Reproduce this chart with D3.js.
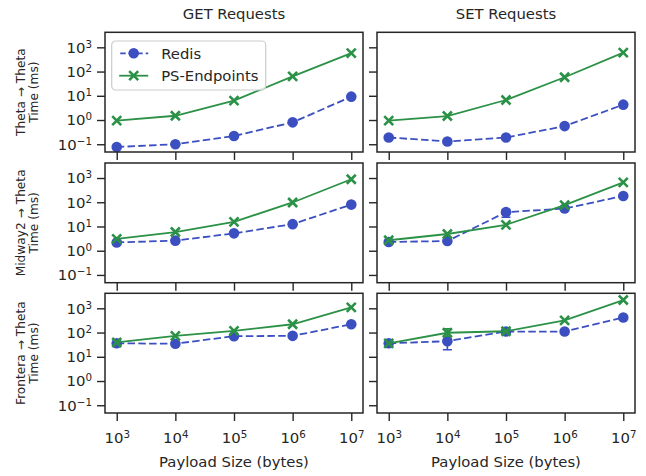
<!DOCTYPE html>
<html>
<head>
<meta charset="utf-8">
<script src="https://cdn.jsdelivr.net/npm/d3@7"></script>
<style>body{margin:0;background:#fff}</style>
</head>
<body>
<div id="chart"></div>
<script>
// values, time in ms, indexed [route][payload]
const payloadSizes = [1e3, 1e4, 1e5, 1e6, 1e7];
const xTickExps = ["3", "4", "5", "6", "7"];
const yTickValues = [1e-1, 1e0, 1e1, 1e2, 1e3];
const yTickExps = ["\u22121", "0", "1", "2", "3"];
const operations = ["GET Requests", "SET Requests"];
const routes = ["Theta \u2192 Theta", "Midway2 \u2192 Theta", "Frontera \u2192 Theta"];
const seriesNames = ["Redis", "PS-Endpoints"];

const redisGet = [
  [0.077, 0.10, 0.22, 0.80, 9.2],
  [2.2, 2.6, 5.2, 12.5, 80],
  [36, 34.5, 71, 73, 220]
];
const psGet = [
  [0.94, 1.5, 6.3, 63, 580],
  [3.1, 5.9, 15.6, 98, 890],
  [39, 73, 118, 220, 1100]
];
const redisSet = [
  [0.19, 0.13, 0.19, 0.56, 4.3],
  [2.3, 2.5, 39, 55, 182],
  [36, 44, 110, 110, 420]
];
const psSet = [
  [0.94, 1.46, 6.7, 58, 600],
  [2.7, 4.9, 11.7, 76, 665],
  [36, 98, 113, 320, 2200]
];
// error bars [low, high]; null where the bar hides behind the marker
const redisSetErr = [
  [null, null, null, null, null],
  [null, null, [24, 50], null, null],
  [null, [19.5, 55], null, null, null]
];
const psSetErr = [
  [null, null, null, null, null],
  [null, null, null, null, null],
  [null, [70, 142], null, null, null]
];

(function () {
  const width = 646, height = 476;
  const colX = [105, 377], rowY = [32.3, 163, 293.3];
  const pw = 258, ph = 119.7;
  const ink = "#262626";
  const blue = "#3b4fc1", green = "#2b9147";

  const svg = d3.select("#chart").append("svg")
    .attr("width", width)
    .attr("height", height)
    .style("font-family", "'DejaVu Sans', sans-serif");

  const x = d3.scaleLog().domain([10 ** 2.8, 10 ** 7.2]).range([0, pw]);
  const y = d3.scaleLog().domain([10 ** -1.32, 10 ** 3.62]).range([ph, 0]);

  const styles = [
    { color: blue, dash: "7.5,3.3", marker: "circle" },
    { color: green, dash: null, marker: "x" }
  ];
  const data = [[redisGet, psGet], [redisSet, psSet]];
  const errs = [[null, null], [redisSetErr, psSetErr]];

  function powLabel(sel, exps) {
    sel.each(function (d, i) {
      const t = d3.select(this).text(null);
      t.append("tspan").text("10");
      t.append("tspan").attr("dy", "-5px").style("font-size", "10.3px").text(exps[i]);
    });
  }

  function drawMarker(g, kind, color, cx, cy) {
    if (kind === "circle") {
      g.append("circle").attr("cx", cx).attr("cy", cy).attr("r", 5.3).attr("fill", color);
    } else {
      const s = 4.5;
      g.append("path")
        .attr("d", `M${cx - s},${cy - s}L${cx + s},${cy + s}M${cx - s},${cy + s}L${cx + s},${cy - s}`)
        .attr("stroke", color).attr("stroke-width", 2.6).attr("fill", "none");
    }
  }

  operations.forEach((op, c) => {
    svg.append("text")
      .attr("x", colX[c] + pw / 2).attr("y", 18.5)
      .attr("text-anchor", "middle").attr("fill", ink)
      .style("font-size", "14.8px").text(op);

    routes.forEach((route, r) => {
      const g = svg.append("g").attr("transform", `translate(${colX[c]},${rowY[r]})`);

      // axes
      const ya = g.append("g").call(d3.axisLeft(y).tickValues(yTickValues).tickSize(8).tickSizeOuter(0).tickPadding(5));
      const xa = g.append("g").attr("transform", `translate(0,${ph})`)
        .call(d3.axisBottom(x).tickValues(payloadSizes).tickSize(8).tickSizeOuter(0).tickPadding(11.5));
      [ya, xa].forEach(a => {
        a.select(".domain").remove();
        a.selectAll("line").attr("stroke", ink).attr("stroke-width", 1.4);
        a.selectAll("text").attr("fill", ink).style("font-size", "14.9px").style("font-family", "'DejaVu Sans', sans-serif");
      });
      if (c === 0) powLabel(ya.selectAll(".tick text"), yTickExps);
      else ya.selectAll(".tick text").remove();
      if (r === 2) powLabel(xa.selectAll(".tick text"), xTickExps);
      else xa.selectAll(".tick text").remove();

      // series
      data[c].forEach((series, s) => {
        const st = styles[s];
        const vals = series[r];
        const line = d3.line().x((d, i) => x(payloadSizes[i])).y(d => y(d));
        g.append("path").datum(vals)
          .attr("d", line)
          .attr("fill", "none")
          .attr("stroke", st.color)
          .attr("stroke-width", 1.8)
          .attr("stroke-dasharray", st.dash);
        const e = errs[c][s];
        if (e) {
          e[r].forEach((b, i) => {
            if (!b) return;
            const px = x(payloadSizes[i]);
            g.append("path")
              .attr("d", `M${px},${y(b[0])}V${y(b[1])}M${px - 4.5},${y(b[0])}H${px + 4.5}M${px - 4.5},${y(b[1])}H${px + 4.5}`)
              .attr("stroke", st.color).attr("stroke-width", 1.6).attr("fill", "none");
          });
        }
        vals.forEach((v, i) => drawMarker(g, st.marker, st.color, x(payloadSizes[i]), y(v)));
      });

      g.append("rect")
        .attr("width", pw).attr("height", ph)
        .attr("fill", "none").attr("stroke", ink).attr("stroke-width", 1.5);

      if (c === 0) {
        const cy = rowY[r] + ph / 2;
        [route, "Time (ms)"].forEach((t, k) => {
          svg.append("text")
            .attr("transform", `translate(${k === 0 ? 24.5 : 38},${cy}) rotate(-90)`)
            .attr("text-anchor", "middle").attr("fill", ink)
            .style("font-size", "12.2px").text(t);
        });
      }
      if (r === 2) {
        svg.append("text")
          .attr("x", colX[c] + pw / 2).attr("y", 467)
          .attr("text-anchor", "middle").attr("fill", ink)
          .style("font-size", "14.8px").text("Payload Size (bytes)");
      }
    });
  });

  // legend in the first panel
  const lg = svg.append("g").attr("transform", "translate(111.7,41)");
  lg.append("rect")
    .attr("width", 154).attr("height", 49).attr("rx", 4)
    .attr("fill", "#fff").attr("fill-opacity", 0.8)
    .attr("stroke", "#cccccc").attr("stroke-width", 1.2);
  seriesNames.forEach((name, s) => {
    const st = styles[s];
    const ly = 12.3 + s * 22.4;
    lg.append("line")
      .attr("x1", 7.5).attr("x2", 36.5).attr("y1", ly).attr("y2", ly)
      .attr("stroke", st.color).attr("stroke-width", 1.8)
      .attr("stroke-dasharray", st.dash ? "5.5,3" : null)
      .attr("stroke-dashoffset", st.dash ? -1 : null);
    drawMarker(lg, st.marker, st.color, 22, ly);
    lg.append("text")
      .attr("x", 49.5).attr("y", ly + 5.4)
      .attr("fill", ink).style("font-size", "14.8px").text(name);
  });
})();
</script>
</body>
</html>
